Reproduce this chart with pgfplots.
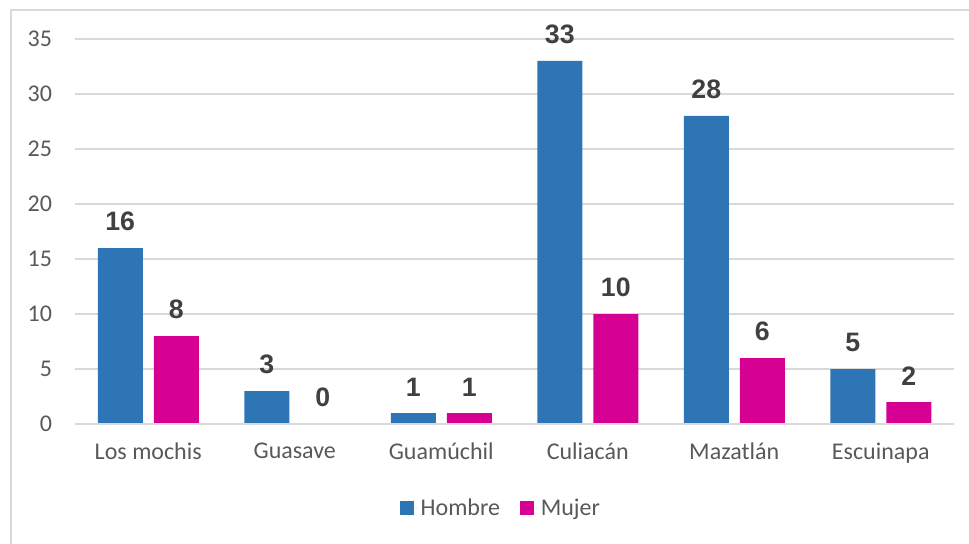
\documentclass[border=0pt]{standalone}
\usepackage{pgfplots}
\pgfplotsset{compat=1.18}
\usepackage{fontspec}
\setmainfont{Carlito}
\newfontfamily\labelfont{Liberation Sans}
\definecolor{hombre}{RGB}{46,117,182}
\definecolor{mujer}{RGB}{214,0,147}
\definecolor{txt}{RGB}{89,89,89}
\definecolor{dtxt}{RGB}{64,64,64}
\definecolor{gridc}{RGB}{217,217,217}
\begin{document}
\begin{tikzpicture}[x=0.75pt,y=0.75pt]
\useasboundingbox (0,0) rectangle (969,543);
\draw[gridc, line width=1.2pt] (11,-20) -- (11,533) -- (1000,533);
\begin{axis}[
  at={(56.25pt,89.25pt)}, anchor=south west,
  scale only axis, width=659.25pt, height=288.75pt,
  xmin=-0.5, xmax=5.5, ymin=0, ymax=35,
  ybar=8.25pt, bar width=33.75pt,
  axis x line*=bottom, axis y line*=left,
  x axis line style={-, draw=gridc, line width=1.3pt},
  y axis line style={draw=none},
  xtick={0,...,5},
  xticklabels={Los mochis, Guasave, Guamúchil, Culiacán, Mazatlán, Escuinapa},
  ytick={0,5,...,35},
  ymajorgrids, major grid style={draw=gridc, line width=0.8pt},
  major tick length=0pt, tick style={draw=none},
  /pgf/number format/assume math mode=true,
  tick label style={font=\fontsize{18}{20}\selectfont, text=txt},
  yticklabel style={anchor=east, inner sep=0pt, xshift=-17pt},
  xticklabel style={anchor=north, inner sep=0pt, yshift=-14pt},
  clip=false,
  nodes near coords,
  nodes near coords style={font=\labelfont\bfseries\fontsize{20}{22}\selectfont, text=dtxt, inner sep=0pt, anchor=south, yshift=12.5pt},
  legend style={at={(0.485,-0.218)}, anchor=center, draw=none, legend columns=2,
    font=\fontsize{18}{20}\selectfont, text=txt,
    /tikz/every even column/.append style={column sep=13pt}},
  mylegend/.style={legend image code/.code={\fill[##1] (0pt,-5.25pt) rectangle (10.5pt,5.25pt); \path (0pt,0pt) -- (13.5pt,0pt);}},
]
\addplot[fill=hombre, draw=none, mylegend] coordinates {(0,16) (1,3) (2,1) (3,33) (4,28) (5,5)};
\addplot[fill=mujer, draw=none, mylegend] coordinates {(0,8) (1,0) (2,1) (3,10) (4,6) (5,2)};
\legend{Hombre, Mujer}
\draw[gridc, line width=1.3pt] (axis cs:-0.5,0) -- (axis cs:5.5,0);
\end{axis}
\end{tikzpicture}
\end{document}
